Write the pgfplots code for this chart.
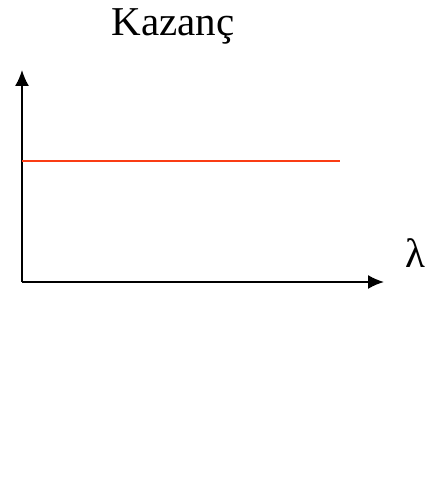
\documentclass[border=0pt]{standalone}
\usepackage{fontspec}
\setmainfont{Liberation Serif}
\usepackage{pgfplots}
\pgfplotsset{compat=1.18}
\usetikzlibrary{arrows.meta}
\definecolor{lineorange}{RGB}{250,60,20}
\begin{document}
\begin{tikzpicture}[x=1bp,y=1bp]
\path[use as bounding box] (0,0) rectangle (435,479);
\begin{axis}[
  at={(22bp,197bp)}, anchor=origin,
  scale only axis, width=362bp, height=212bp,
  xmin=0, xmax=362, ymin=0, ymax=212,
  axis lines=left,
  axis line style={line width=1.8bp, -{Latex[length=16bp,width=14bp]}},
  xtick=\empty, ytick=\empty,
  clip=false,
]
\addplot[lineorange, line width=1.8bp, no marks] coordinates {(0,121.3) (318,121.3)};
\end{axis}
\node[anchor=base, inner sep=0pt, font=\fontsize{41bp}{48bp}\selectfont] at (173,443) {Kazanç};
\node[anchor=base, inner sep=0pt, font=\fontsize{41bp}{48bp}\selectfont] at (415,211) {λ};
\end{tikzpicture}
\end{document}
